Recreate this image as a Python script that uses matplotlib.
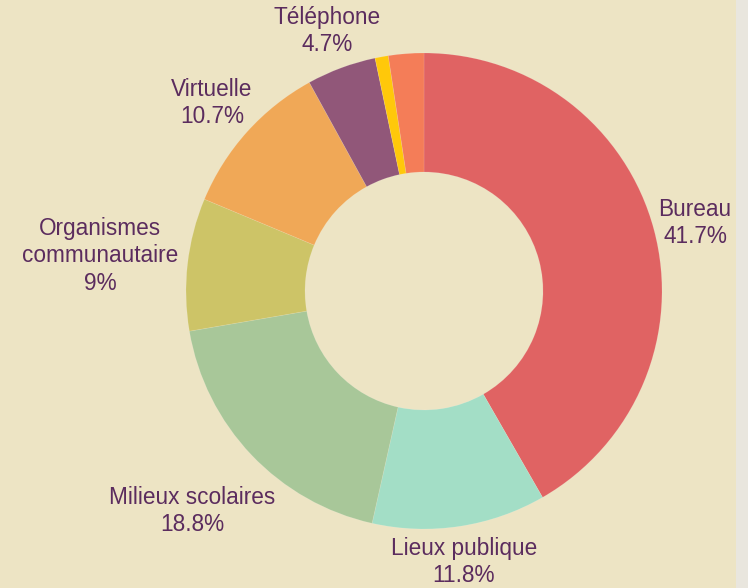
import matplotlib
matplotlib.use("Agg")
import matplotlib.pyplot as plt
import matplotlib.patches as mpatches

categories = ["Bureau", "Lieux publique", "Milieux scolaires", "Organismes\ncommunautaire",
              "Virtuelle", "Téléphone", "Autre 1", "Autre 2"]
values = [41.7, 11.8, 18.8, 9.0, 10.7, 4.7, 0.9, 2.4]
pct_labels = ["41.7%", "11.8%", "18.8%", "9%", "10.7%", "4.7%", None, None]
colors = ["#E06363", "#A3DEC6", "#A8C799", "#CDC467", "#F0A857", "#915779", "#FFC80A", "#F47D58"]
# label text centres (pixels, top-left origin)
label_pos = [(695, 223), (464, 562), (192, 511), (100, 256), (212, 103), (327, 31), None, None]

W, H = 748, 588
fig = plt.figure(figsize=(W / 100, H / 100), dpi=100)
bg = "#EDE4C4"
fig.patch.set_facecolor(bg)
ax = fig.add_axes([0, 0, 1, 1])
ax.add_patch(mpatches.Rectangle((736, 0), W - 736, H, facecolor="#E9E6DE", edgecolor="none", zorder=0))

cx, cy, R = 424, H - 291, 238
ax.pie(values, colors=colors, startangle=90, counterclock=False, center=(cx, cy), radius=R,
       wedgeprops=dict(width=R * 0.5, edgecolor=(1, 1, 1, 0.15), linewidth=0.5),
       frame=True)
ax.set_xlim(0, W)
ax.set_ylim(0, H)
ax.set_aspect("equal")
ax.axis("off")

txt_color = "#5B2C5E"
for cat, pct, pos in zip(categories, pct_labels, label_pos):
    if pos is None:
        continue
    ax.text(pos[0], H - pos[1], f"{cat}\n{pct}", ha="center", va="center",
            fontsize=16.3, color=txt_color, family=["Liberation Sans", "DejaVu Sans"],
            linespacing=1.27, multialignment="center")

fig.savefig("out.png", dpi=100, facecolor=fig.get_facecolor())
